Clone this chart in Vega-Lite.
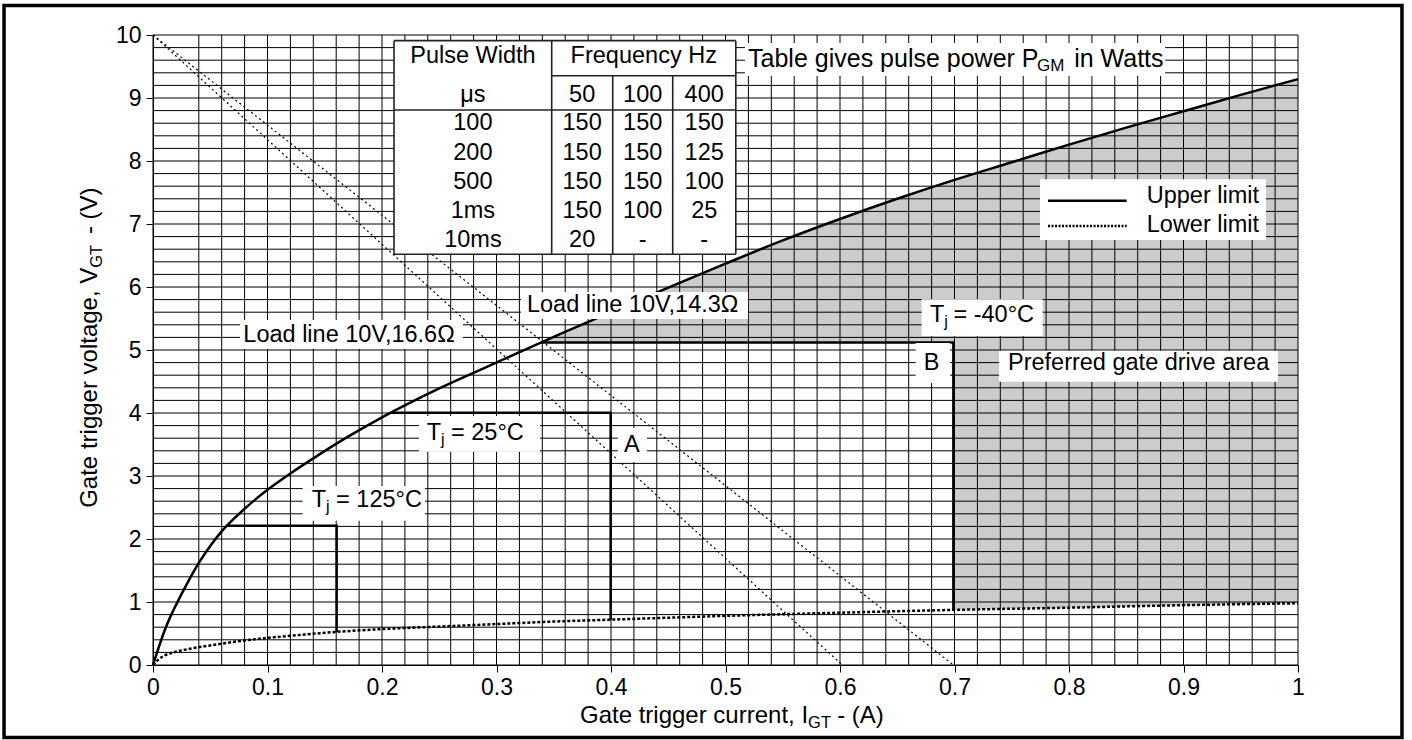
{
  "$schema": "https://vega.github.io/schema/vega-lite/v6.json",
  "width": 1145,
  "height": 630,
  "autosize": {"type": "none"},
  "padding": {"left": 153, "top": 35, "right": 114, "bottom": 75},
  "background": "white",
  "config": {"view": {"stroke": null}, "font": "Liberation Sans"},
  "datasets": {
    "gridx": [
      {"I": 0}, {"I": 0.04}, {"I": 0.06}, {"I": 0.08}, {"I": 0.1}, {"I": 0.12}, {"I": 0.14}, {"I": 0.16}, {"I": 0.18}, {"I": 0.2},
      {"I": 0.22}, {"I": 0.24}, {"I": 0.26}, {"I": 0.28}, {"I": 0.3}, {"I": 0.32}, {"I": 0.34}, {"I": 0.36}, {"I": 0.38}, {"I": 0.4},
      {"I": 0.42}, {"I": 0.44}, {"I": 0.46}, {"I": 0.48}, {"I": 0.5}, {"I": 0.52}, {"I": 0.54}, {"I": 0.56}, {"I": 0.58}, {"I": 0.6},
      {"I": 0.62}, {"I": 0.64}, {"I": 0.66}, {"I": 0.68}, {"I": 0.7}, {"I": 0.72}, {"I": 0.74}, {"I": 0.76}, {"I": 0.78}, {"I": 0.8},
      {"I": 0.82}, {"I": 0.84}, {"I": 0.86}, {"I": 0.88}, {"I": 0.9}, {"I": 0.92}, {"I": 0.94}, {"I": 0.96}, {"I": 0.98}, {"I": 1}
    ],
    "gridy": [
      {"V": 0}, {"V": 0.2}, {"V": 0.4}, {"V": 0.6}, {"V": 0.8}, {"V": 1}, {"V": 1.2}, {"V": 1.4}, {"V": 1.6}, {"V": 1.8},
      {"V": 2}, {"V": 2.2}, {"V": 2.4}, {"V": 2.6}, {"V": 2.8}, {"V": 3}, {"V": 3.2}, {"V": 3.4}, {"V": 3.6}, {"V": 3.8},
      {"V": 4}, {"V": 4.2}, {"V": 4.4}, {"V": 4.6}, {"V": 4.8}, {"V": 5}, {"V": 5.2}, {"V": 5.4}, {"V": 5.6}, {"V": 5.8},
      {"V": 6}, {"V": 6.2}, {"V": 6.4}, {"V": 6.6}, {"V": 6.8}, {"V": 7}, {"V": 7.2}, {"V": 7.4}, {"V": 7.6}, {"V": 7.8},
      {"V": 8}, {"V": 8.2}, {"V": 8.4}, {"V": 8.6}, {"V": 8.8}, {"V": 9}, {"V": 9.2}, {"V": 9.4}, {"V": 9.6}, {"V": 9.8}, {"V": 10}
    ],
    "upper": [
      {"I": 0, "V": 0}, {"I": 0.005, "V": 0.28}, {"I": 0.01, "V": 0.54}, {"I": 0.015, "V": 0.76},
      {"I": 0.02, "V": 0.95}, {"I": 0.03, "V": 1.3}, {"I": 0.04, "V": 1.62}, {"I": 0.05, "V": 1.89},
      {"I": 0.06, "V": 2.12}, {"I": 0.07, "V": 2.31}, {"I": 0.08, "V": 2.48}, {"I": 0.1, "V": 2.78},
      {"I": 0.12, "V": 3.04}, {"I": 0.14, "V": 3.28}, {"I": 0.17, "V": 3.62}, {"I": 0.2, "V": 3.93},
      {"I": 0.25, "V": 4.39}, {"I": 0.3, "V": 4.8}, {"I": 0.35, "V": 5.21}, {"I": 0.4, "V": 5.6},
      {"I": 0.45, "V": 5.99}, {"I": 0.5, "V": 6.37}, {"I": 0.55, "V": 6.74}, {"I": 0.6, "V": 7.08},
      {"I": 0.65, "V": 7.4}, {"I": 0.7, "V": 7.7}, {"I": 0.75, "V": 7.98}, {"I": 0.8, "V": 8.26},
      {"I": 0.85, "V": 8.53}, {"I": 0.9, "V": 8.79}, {"I": 0.95, "V": 9.05}, {"I": 1, "V": 9.3}
    ],
    "lower": [
      {"I": 0, "V": 0}, {"I": 0.005, "V": 0.09}, {"I": 0.01, "V": 0.15}, {"I": 0.02, "V": 0.21},
      {"I": 0.03, "V": 0.25}, {"I": 0.05, "V": 0.31}, {"I": 0.08, "V": 0.39}, {"I": 0.1, "V": 0.43},
      {"I": 0.13, "V": 0.48}, {"I": 0.16, "V": 0.525}, {"I": 0.2, "V": 0.57}, {"I": 0.25, "V": 0.61},
      {"I": 0.3, "V": 0.65}, {"I": 0.35, "V": 0.69}, {"I": 0.4, "V": 0.72}, {"I": 0.5, "V": 0.78},
      {"I": 0.6, "V": 0.83}, {"I": 0.7, "V": 0.875}, {"I": 0.8, "V": 0.91}, {"I": 0.9, "V": 0.95},
      {"I": 1, "V": 0.98}
    ],
    "gate": [
      {"I": 0.339, "hi": 5.12, "lo": 5.12}, {"I": 0.35, "hi": 5.21, "lo": 5.12},
      {"I": 0.4, "hi": 5.6, "lo": 5.12}, {"I": 0.45, "hi": 5.99, "lo": 5.12},
      {"I": 0.5, "hi": 6.37, "lo": 5.12}, {"I": 0.55, "hi": 6.74, "lo": 5.12},
      {"I": 0.6, "hi": 7.08, "lo": 5.12}, {"I": 0.65, "hi": 7.4, "lo": 5.12},
      {"I": 0.699, "hi": 7.694, "lo": 5.12}, {"I": 0.7, "hi": 7.7, "lo": 0.875},
      {"I": 0.75, "hi": 7.98, "lo": 0.895}, {"I": 0.8, "hi": 8.26, "lo": 0.91},
      {"I": 0.85, "hi": 8.53, "lo": 0.93}, {"I": 0.9, "hi": 8.79, "lo": 0.95},
      {"I": 0.95, "hi": 9.05, "lo": 0.965}, {"I": 1, "hi": 9.3, "lo": 0.98}
    ],
    "load": [
      {"line": "10V,16.6Ω", "I": 0, "V": 10}, {"line": "10V,16.6Ω", "I": 0.602, "V": 0},
      {"line": "10V,14.3Ω", "I": 0, "V": 10}, {"line": "10V,14.3Ω", "I": 0.699, "V": 0}
    ],
    "limits": [
      {"box": "125", "ord": 1, "I": 0.0645, "V": 2.21}, {"box": "125", "ord": 2, "I": 0.1604, "V": 2.21}, {"box": "125", "ord": 3, "I": 0.1604, "V": 0.525},
      {"box": "25", "ord": 1, "I": 0.208, "V": 4.005}, {"box": "25", "ord": 2, "I": 0.3997, "V": 4.005}, {"box": "25", "ord": 3, "I": 0.3997, "V": 0.72},
      {"box": "-40", "ord": 1, "I": 0.339, "V": 5.12}, {"box": "-40", "ord": 2, "I": 0.699, "V": 5.12}, {"box": "-40", "ord": 3, "I": 0.699, "V": 0.875}
    ],
    "panels": [
      {"name": "caption", "x1": 0.517, "x2": 0.884, "y1": 9.349, "y2": 9.873},
      {"name": "table", "x1": 0.2105, "x2": 0.509, "y1": 6.519, "y2": 9.91},
      {"name": "legend", "x1": 0.7747, "x2": 0.9721, "y1": 6.746, "y2": 7.71},
      {"name": "load166", "x1": 0.076, "x2": 0.2707, "y1": 5.016, "y2": 5.476},
      {"name": "load143", "x1": 0.3214, "x2": 0.5197, "y1": 5.492, "y2": 5.921},
      {"name": "tj125", "x1": 0.1307, "x2": 0.2376, "y1": 2.29, "y2": 2.841},
      {"name": "tj25", "x1": 0.2323, "x2": 0.338, "y1": 3.386, "y2": 3.952},
      {"name": "tj40", "x1": 0.6713, "x2": 0.777, "y1": 5.222, "y2": 5.805},
      {"name": "A", "x1": 0.406, "x2": 0.4314, "y1": 3.222, "y2": 3.762},
      {"name": "B", "x1": 0.6661, "x2": 0.6961, "y1": 4.476, "y2": 5.111},
      {"name": "pref", "x1": 0.7389, "x2": 0.9825, "y1": 4.497, "y2": 4.989}
    ],
    "table_lines": [
      {"x1": 0.2105, "x2": 0.509, "y1": 9.91, "y2": 9.91},
      {"x1": 0.2105, "x2": 0.509, "y1": 6.519, "y2": 6.519},
      {"x1": 0.2105, "x2": 0.2105, "y1": 6.519, "y2": 9.91},
      {"x1": 0.509, "x2": 0.509, "y1": 6.519, "y2": 9.91},
      {"x1": 0.3482, "x2": 0.3482, "y1": 6.519, "y2": 9.91},
      {"x1": 0.3482, "x2": 0.509, "y1": 9.354, "y2": 9.354},
      {"x1": 0.2105, "x2": 0.509, "y1": 8.81, "y2": 8.81},
      {"x1": 0.4015, "x2": 0.4015, "y1": 6.519, "y2": 9.354},
      {"x1": 0.4539, "x2": 0.4539, "y1": 6.519, "y2": 9.354}
    ],
    "legend_lines": [
      {"series": "Upper limit", "x1": 0.7817, "x2": 0.8504, "V": 7.37},
      {"series": "Lower limit", "x1": 0.7817, "x2": 0.8504, "V": 6.968}
    ],
    "caption": [
      {"t": "Table gives pulse power P", "I": 0.5197, "V": 9.619, "kind": "main"},
      {"t": "GM", "I": 0.772, "V": 9.619, "kind": "sub"},
      {"t": "in Watts", "I": 0.8045, "V": 9.619, "kind": "main"}
    ],
    "notes": [
      {"t": "Load line 10V,16.6Ω", "I": 0.0789, "V": 5.238},
      {"t": "Load line 10V,14.3Ω", "I": 0.3266, "V": 5.714},
      {"t": "Preferred gate drive area", "I": 0.7467, "V": 4.794},
      {"t": "T", "I": 0.1386, "V": 2.619},
      {"t": "= 125°C", "I": 0.1599, "V": 2.619},
      {"t": "T", "I": 0.239, "V": 3.683},
      {"t": "= 25°C", "I": 0.2603, "V": 3.683},
      {"t": "T", "I": 0.6786, "V": 5.556},
      {"t": "= -40°C", "I": 0.6991, "V": 5.556},
      {"t": "Upper limit", "I": 0.8679, "V": 7.448},
      {"t": "Lower limit", "I": 0.8679, "V": 6.979}
    ],
    "subs": [
      {"t": "j", "I": 0.1511, "V": 2.619},
      {"t": "j", "I": 0.2515, "V": 3.683},
      {"t": "j", "I": 0.6911, "V": 5.556}
    ],
    "centered": [
      {"t": "Pulse Width", "I": 0.2794, "V": 9.671},
      {"t": "Frequency Hz", "I": 0.4286, "V": 9.671},
      {"t": "μs", "I": 0.2794, "V": 9.048},
      {"t": "50", "I": 0.3748, "V": 9.048}, {"t": "100", "I": 0.4277, "V": 9.048}, {"t": "400", "I": 0.4814, "V": 9.048},
      {"t": "100", "I": 0.2794, "V": 8.598}, {"t": "150", "I": 0.3748, "V": 8.598}, {"t": "150", "I": 0.4277, "V": 8.598}, {"t": "150", "I": 0.4814, "V": 8.598},
      {"t": "200", "I": 0.2794, "V": 8.132}, {"t": "150", "I": 0.3748, "V": 8.132}, {"t": "150", "I": 0.4277, "V": 8.132}, {"t": "125", "I": 0.4814, "V": 8.132},
      {"t": "500", "I": 0.2794, "V": 7.671}, {"t": "150", "I": 0.3748, "V": 7.671}, {"t": "150", "I": 0.4277, "V": 7.671}, {"t": "100", "I": 0.4814, "V": 7.671},
      {"t": "1ms", "I": 0.2794, "V": 7.211}, {"t": "150", "I": 0.3748, "V": 7.211}, {"t": "100", "I": 0.4277, "V": 7.211}, {"t": "25", "I": 0.4814, "V": 7.211},
      {"t": "10ms", "I": 0.2794, "V": 6.746}, {"t": "20", "I": 0.3748, "V": 6.746}, {"t": "-", "I": 0.4277, "V": 6.746}, {"t": "-", "I": 0.4814, "V": 6.746},
      {"t": "A", "I": 0.4183, "V": 3.49},
      {"t": "B", "I": 0.6801, "V": 4.789}
    ],
    "titles": [
      {"t": "Gate trigger current, I", "I": 0.3729, "V": -0.814, "axis": "x", "kind": "main"},
      {"t": "GT", "I": 0.5721, "V": -0.814, "axis": "x", "kind": "sub"},
      {"t": "- (A)", "I": 0.5975, "V": -0.814, "axis": "x", "kind": "main"},
      {"t": "Gate trigger voltage, V", "I": -0.0554, "V": 2.495, "axis": "y", "kind": "main"},
      {"t": "GT", "I": -0.0554, "V": 6.306, "axis": "y", "kind": "sub"},
      {"t": "- (V)", "I": -0.0554, "V": 6.84, "axis": "y", "kind": "main"}
    ],
    "frame": [{"x1": -0.1301, "x2": 1.0908, "y1": -1.151, "y2": 10.468}]
  },
  "layer": [
    {
      "data": {"name": "gridx"},
      "mark": {"type": "rule", "stroke": "black", "strokeWidth": 1},
      "encoding": {
        "x": {"field": "I", "type": "quantitative", "title": null, "scale": {"domain": [0, 1], "nice": false, "zero": false}}
      }
    },
    {
      "data": {"name": "gridy"},
      "mark": {"type": "rule", "stroke": "black", "strokeWidth": 1},
      "encoding": {
        "y": {"field": "V", "type": "quantitative", "title": null, "scale": {"domain": [0, 10], "nice": false, "zero": false}}
      }
    },
    {
      "data": {"name": "gate"},
      "mark": {"type": "area", "fill": "black", "fillOpacity": 0.2, "interpolate": "monotone"},
      "encoding": {
        "x": {
          "field": "I", "type": "quantitative", "title": null,
          "scale": {"domain": [0, 1], "nice": false, "zero": false},
          "axis": {
            "title": null,
            "values": [0, 0.1, 0.2, 0.3, 0.4, 0.5, 0.6, 0.7, 0.8, 0.9, 1],
            "format": "~g",
            "labelFont": "Liberation Sans", "labelFontSize": 23, "labelColor": "black",
            "labelPadding": 4, "labelFlush": false, "labelOverlap": false, "labelBound": false,
            "tickSize": 7, "tickColor": "black", "tickWidth": 1,
            "grid": false,
            "domain": true, "domainColor": "black", "domainWidth": 1,
            "zindex": 0
          }
        },
        "y": {
          "field": "hi", "type": "quantitative", "title": null,
          "scale": {"domain": [0, 10], "nice": false, "zero": false},
          "axis": {
            "title": null,
            "values": [0, 1, 2, 3, 4, 5, 6, 7, 8, 9, 10],
            "format": "~g",
            "labelFont": "Liberation Sans", "labelFontSize": 23, "labelColor": "black",
            "labelPadding": 5, "labelFlush": false, "labelOverlap": false, "labelBound": false,
            "tickSize": 7, "tickColor": "black", "tickWidth": 1,
            "grid": false,
            "domain": true, "domainColor": "black", "domainWidth": 1,
            "zindex": 0
          }
        },
        "y2": {"field": "lo"}
      }
    },
    {
      "data": {"name": "load"},
      "mark": {"type": "line", "stroke": "black", "strokeWidth": 1.2, "strokeDash": [2, 3]},
      "encoding": {
        "x": {"field": "I", "type": "quantitative", "title": null, "scale": {"domain": [0, 1], "nice": false, "zero": false}},
        "y": {"field": "V", "type": "quantitative", "title": null, "scale": {"domain": [0, 10], "nice": false, "zero": false}},
        "detail": {"field": "line", "type": "nominal"}
      }
    },
    {
      "data": {"name": "upper"},
      "mark": {"type": "line", "stroke": "black", "strokeWidth": 2.5, "interpolate": "monotone"},
      "encoding": {
        "x": {"field": "I", "type": "quantitative", "title": null, "scale": {"domain": [0, 1], "nice": false, "zero": false}},
        "y": {"field": "V", "type": "quantitative", "title": null, "scale": {"domain": [0, 10], "nice": false, "zero": false}}
      }
    },
    {
      "data": {"name": "lower"},
      "mark": {"type": "line", "stroke": "black", "strokeWidth": 2.5, "strokeDash": [3, 2], "interpolate": "monotone"},
      "encoding": {
        "x": {"field": "I", "type": "quantitative", "title": null, "scale": {"domain": [0, 1], "nice": false, "zero": false}},
        "y": {"field": "V", "type": "quantitative", "title": null, "scale": {"domain": [0, 10], "nice": false, "zero": false}}
      }
    },
    {
      "data": {"name": "limits"},
      "mark": {"type": "line", "stroke": "black", "strokeWidth": 2.5},
      "encoding": {
        "x": {"field": "I", "type": "quantitative", "title": null, "scale": {"domain": [0, 1], "nice": false, "zero": false}},
        "y": {"field": "V", "type": "quantitative", "title": null, "scale": {"domain": [0, 10], "nice": false, "zero": false}},
        "detail": {"field": "box", "type": "nominal"},
        "order": {"field": "ord", "type": "quantitative"}
      }
    },
    {
      "data": {"name": "panels"},
      "mark": {"type": "rect", "fill": "white", "stroke": null},
      "encoding": {
        "x": {"field": "x1", "type": "quantitative", "title": null, "scale": {"domain": [0, 1], "nice": false, "zero": false}},
        "x2": {"field": "x2"},
        "y": {"field": "y1", "type": "quantitative", "title": null, "scale": {"domain": [0, 10], "nice": false, "zero": false}},
        "y2": {"field": "y2"}
      }
    },
    {
      "data": {"name": "table_lines"},
      "mark": {"type": "rule", "stroke": "#222222", "strokeWidth": 1.6},
      "encoding": {
        "x": {"field": "x1", "type": "quantitative", "title": null, "scale": {"domain": [0, 1], "nice": false, "zero": false}},
        "x2": {"field": "x2"},
        "y": {"field": "y1", "type": "quantitative", "title": null, "scale": {"domain": [0, 10], "nice": false, "zero": false}},
        "y2": {"field": "y2"}
      }
    },
    {
      "data": {"name": "legend_lines"},
      "mark": {"type": "rule", "stroke": "black", "strokeWidth": 2.5},
      "encoding": {
        "x": {"field": "x1", "type": "quantitative", "title": null, "scale": {"domain": [0, 1], "nice": false, "zero": false}},
        "x2": {"field": "x2"},
        "y": {"field": "V", "type": "quantitative", "title": null, "scale": {"domain": [0, 10], "nice": false, "zero": false}},
        "strokeDash": {"field": "series", "type": "nominal", "scale": {"domain": ["Upper limit", "Lower limit"], "range": [[1, 0], [2, 1.5]]}, "legend": null}
      }
    },
    {
      "data": {"name": "notes"},
      "mark": {"type": "text", "align": "left", "baseline": "middle", "font": "Liberation Sans", "fontSize": 23.5, "fill": "black"},
      "encoding": {
        "x": {"field": "I", "type": "quantitative", "title": null, "scale": {"domain": [0, 1], "nice": false, "zero": false}},
        "y": {"field": "V", "type": "quantitative", "title": null, "scale": {"domain": [0, 10], "nice": false, "zero": false}},
        "text": {"field": "t", "type": "nominal"}
      }
    },
    {
      "data": {"name": "subs"},
      "mark": {"type": "text", "align": "left", "baseline": "middle", "font": "Liberation Sans", "fontSize": 16, "dy": 7, "fill": "black"},
      "encoding": {
        "x": {"field": "I", "type": "quantitative", "title": null, "scale": {"domain": [0, 1], "nice": false, "zero": false}},
        "y": {"field": "V", "type": "quantitative", "title": null, "scale": {"domain": [0, 10], "nice": false, "zero": false}},
        "text": {"field": "t", "type": "nominal"}
      }
    },
    {
      "data": {"name": "caption"},
      "transform": [{"filter": "datum.kind == 'main'"}],
      "mark": {"type": "text", "align": "left", "baseline": "middle", "font": "Liberation Sans", "fontSize": 25, "fill": "black"},
      "encoding": {
        "x": {"field": "I", "type": "quantitative", "title": null, "scale": {"domain": [0, 1], "nice": false, "zero": false}},
        "y": {"field": "V", "type": "quantitative", "title": null, "scale": {"domain": [0, 10], "nice": false, "zero": false}},
        "text": {"field": "t", "type": "nominal"}
      }
    },
    {
      "data": {"name": "caption"},
      "transform": [{"filter": "datum.kind == 'sub'"}],
      "mark": {"type": "text", "align": "left", "baseline": "middle", "font": "Liberation Sans", "fontSize": 17, "dy": 7, "fill": "black"},
      "encoding": {
        "x": {"field": "I", "type": "quantitative", "title": null, "scale": {"domain": [0, 1], "nice": false, "zero": false}},
        "y": {"field": "V", "type": "quantitative", "title": null, "scale": {"domain": [0, 10], "nice": false, "zero": false}},
        "text": {"field": "t", "type": "nominal"}
      }
    },
    {
      "data": {"name": "centered"},
      "mark": {"type": "text", "align": "center", "baseline": "middle", "font": "Liberation Sans", "fontSize": 23.5, "fill": "black"},
      "encoding": {
        "x": {"field": "I", "type": "quantitative", "title": null, "scale": {"domain": [0, 1], "nice": false, "zero": false}},
        "y": {"field": "V", "type": "quantitative", "title": null, "scale": {"domain": [0, 10], "nice": false, "zero": false}},
        "text": {"field": "t", "type": "nominal"}
      }
    },
    {
      "data": {"name": "titles"},
      "transform": [{"filter": "datum.axis == 'x' && datum.kind == 'main'"}],
      "mark": {"type": "text", "align": "left", "baseline": "middle", "font": "Liberation Sans", "fontSize": 24, "fill": "black"},
      "encoding": {
        "x": {"field": "I", "type": "quantitative", "title": null, "scale": {"domain": [0, 1], "nice": false, "zero": false}},
        "y": {"field": "V", "type": "quantitative", "title": null, "scale": {"domain": [0, 10], "nice": false, "zero": false}},
        "text": {"field": "t", "type": "nominal"}
      }
    },
    {
      "data": {"name": "titles"},
      "transform": [{"filter": "datum.axis == 'x' && datum.kind == 'sub'"}],
      "mark": {"type": "text", "align": "left", "baseline": "middle", "font": "Liberation Sans", "fontSize": 16.5, "dy": 7, "fill": "black"},
      "encoding": {
        "x": {"field": "I", "type": "quantitative", "title": null, "scale": {"domain": [0, 1], "nice": false, "zero": false}},
        "y": {"field": "V", "type": "quantitative", "title": null, "scale": {"domain": [0, 10], "nice": false, "zero": false}},
        "text": {"field": "t", "type": "nominal"}
      }
    },
    {
      "data": {"name": "titles"},
      "transform": [{"filter": "datum.axis == 'y' && datum.kind == 'main'"}],
      "mark": {"type": "text", "align": "left", "baseline": "middle", "angle": 270, "font": "Liberation Sans", "fontSize": 24, "fill": "black"},
      "encoding": {
        "x": {"field": "I", "type": "quantitative", "title": null, "scale": {"domain": [0, 1], "nice": false, "zero": false}},
        "y": {"field": "V", "type": "quantitative", "title": null, "scale": {"domain": [0, 10], "nice": false, "zero": false}},
        "text": {"field": "t", "type": "nominal"}
      }
    },
    {
      "data": {"name": "titles"},
      "transform": [{"filter": "datum.axis == 'y' && datum.kind == 'sub'"}],
      "mark": {"type": "text", "align": "left", "baseline": "middle", "angle": 270, "font": "Liberation Sans", "fontSize": 16.5, "dy": 7, "fill": "black"},
      "encoding": {
        "x": {"field": "I", "type": "quantitative", "title": null, "scale": {"domain": [0, 1], "nice": false, "zero": false}},
        "y": {"field": "V", "type": "quantitative", "title": null, "scale": {"domain": [0, 10], "nice": false, "zero": false}},
        "text": {"field": "t", "type": "nominal"}
      }
    },
    {
      "data": {"name": "frame"},
      "mark": {"type": "rect", "fill": "transparent", "stroke": "black", "strokeWidth": 3.5},
      "encoding": {
        "x": {"field": "x1", "type": "quantitative", "title": null, "scale": {"domain": [0, 1], "nice": false, "zero": false}},
        "x2": {"field": "x2"},
        "y": {"field": "y1", "type": "quantitative", "title": null, "scale": {"domain": [0, 10], "nice": false, "zero": false}},
        "y2": {"field": "y2"}
      }
    }
  ]
}
